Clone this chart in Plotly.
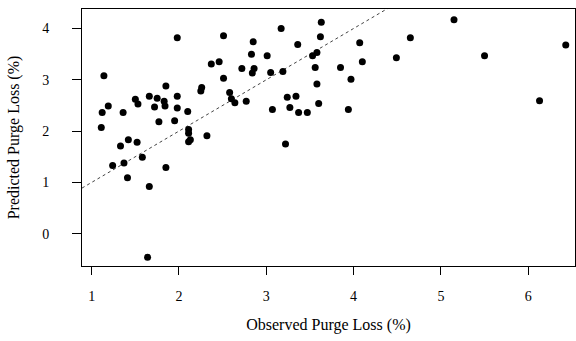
import plotly.graph_objects as go

observed = [1.14, 1.12, 1.19, 1.11, 1.36, 1.50, 1.53, 1.66, 1.72, 1.75, 1.77, 1.83, 1.84, 1.85,
            1.95, 1.98, 1.98, 1.98, 2.10, 2.11, 2.11, 2.13, 2.11, 2.32, 2.26, 2.25, 2.37, 2.46,
            2.51, 2.51, 2.58, 2.60, 2.64, 2.77, 2.72, 2.83, 2.85, 2.84, 2.86, 3.01, 3.05, 3.07,
            3.17, 3.19, 3.24, 3.27, 3.34, 3.37, 3.36, 3.47, 3.53, 3.58, 3.56, 3.58, 3.60, 3.62,
            3.63, 3.85, 3.94, 3.97, 4.07, 4.10, 4.49, 4.65, 5.15, 5.50, 6.13, 6.43, 3.22, 1.33,
            1.42, 1.52, 1.24, 1.37, 1.58, 1.41, 1.66, 1.85, 1.64]
predicted = [3.08, 2.36, 2.49, 2.07, 2.36, 2.62, 2.53, 2.68, 2.47, 2.64, 2.18, 2.58, 2.49, 2.88,
             2.20, 2.68, 2.45, 3.82, 2.38, 2.03, 1.96, 1.83, 1.79, 1.91, 2.85, 2.78, 3.31, 3.35,
             3.86, 3.03, 2.75, 2.63, 2.55, 2.58, 3.22, 3.50, 3.74, 3.13, 3.22, 3.47, 3.14, 2.42,
             4.00, 3.16, 2.66, 2.46, 2.68, 2.36, 3.69, 2.36, 3.47, 3.53, 3.24, 2.92, 2.54, 3.84,
             4.12, 3.24, 2.42, 3.01, 3.72, 3.35, 3.43, 3.82, 4.17, 3.47, 2.59, 3.68, 1.75, 1.71,
             1.83, 1.78, 1.33, 1.38, 1.49, 1.09, 0.92, 1.29, -0.46]

identity_x = [0, 7]
identity_y = [0, 7]

x_ticks = [1, 2, 3, 4, 5, 6]
y_ticks = [0, 1, 2, 3, 4]

font_family = "Liberation Serif, Times New Roman, serif"

fig = go.Figure()
fig.add_trace(go.Scatter(x=identity_x, y=identity_y, mode="lines",
                         line=dict(color="#444444", width=1, dash="dot"),
                         hoverinfo="skip", showlegend=False))
fig.add_trace(go.Scatter(x=observed, y=predicted, mode="markers",
                         marker=dict(color="black", size=7), showlegend=False))

axis_common = dict(showline=True, linecolor="black", linewidth=1, mirror=True,
                   ticks="outside", tickcolor="black", tickwidth=1,
                   showgrid=False, zeroline=False,
                   tickfont=dict(family=font_family, size=14, color="black"))

fig.update_xaxes(range=[0.889, 6.536], tickvals=x_ticks, ticklen=8,
                 ticklabelstandoff=9,
                 title=dict(text="Observed Purge Loss (%)", standoff=16,
                            font=dict(family=font_family, size=16, color="black")),
                 **axis_common)
fig.update_yaxes(range=[-0.63, 4.38], tickvals=y_ticks, ticklen=9,
                 ticklabelstandoff=20,
                 title=dict(text="Predicted Purge Loss (%)", standoff=18,
                            font=dict(family=font_family, size=16, color="black")),
                 **axis_common)

fig.update_layout(width=576, height=341,
                  margin=dict(l=82, r=1, t=9, b=75, autoexpand=False),
                  plot_bgcolor="white", paper_bgcolor="white",
                  font=dict(family=font_family, color="black"))

fig.write_html("out.html", config={"displayModeBar": False},
               post_script="document.body.style.margin='0';document.body.style.padding='0';")
